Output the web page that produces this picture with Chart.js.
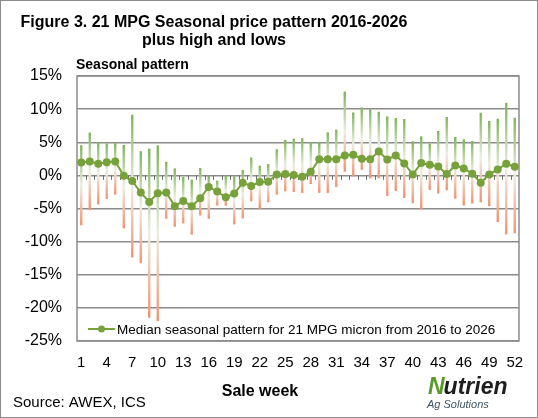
<!DOCTYPE html>
<html>
<head>
<meta charset="utf-8">
<script src="https://cdn.jsdelivr.net/npm/chart.js@4"></script>
<style>
  html, body { margin: 0; padding: 0; background: #fff; }
  canvas { display: block; }
</style>
</head>
<body>
<canvas id="seasonChart" width="538" height="418"></canvas>
<script>
const weeks = ["1","2","3","4","5","6","7","8","9","10","11","12","13","14","15","16","17","18","19","20",
  "21","22","23","24","25","26","27","28","29","30","31","32","33","34","35","36","37","38","39","40",
  "41","42","43","44","45","46","47","48","49","50","51","52"];
const shownWeeks = ["1","4","7","10","13","16","19","22","25","28","31","34","37","40","43","46","49","52"];

// median seasonal pattern, %
const median = [1.95, 2.1, 1.75, 2.0, 2.1, -0.05, -0.85, -2.6, -4.0, -2.7,
  -2.6, -4.65, -3.85, -4.65, -3.45, -1.75, -2.45, -3.3, -2.75, -1.1,
  -1.6, -1.0, -0.95, 0.15, 0.2, 0.05, -0.2, 0.55, 2.45, 2.45,
  2.45, 3.0, 3.1, 2.5, 2.45, 3.6, 2.4, 3.0, 1.8, 0.15,
  1.85, 1.6, 1.35, 0.2, 1.5, 1.05, 0.25, -1.1, 0.15, 0.9,
  1.75, 1.3];
const highs = [4.5, 6.4, 5.0, 4.75, 4.8, 4.55, 9.1, 3.6, 4.0, 4.5,
  2.0, 1.0, -0.3, -0.7, 1.05, -0.1, -0.85, -0.1, -0.2, 0.75,
  2.65, 1.4, 1.65, 3.9, 5.3, 5.5, 5.55, 5.0, 5.0, 6.45,
  6.85, 12.6, 9.45, 10.2, 10.1, 9.55, 8.85, 8.6, 8.45, 5.1,
  5.85, 4.75, 6.65, 8.75, 5.75, 5.4, 5.15, 9.4, 8.15, 8.5,
  10.9, 8.65];
const lows = [-7.5, -5.2, -4.35, -3.5, -2.85, -7.95, -12.35, -13.2, -21.45, -21.95,
  -6.5, -7.7, -7.2, -8.9, -6.0, -6.5, -4.5, -4.5, -7.35, -6.45,
  -3.85, -5.0, -4.0, -2.85, -2.35, -2.45, -2.6, -1.25, -2.6, -2.6,
  -1.7, 0.6, -0.1, 0.9, -0.4, -0.4, -3.05, -2.3, -3.35, -4.15,
  -5.05, -2.15, -2.7, -2.2, -3.45, -4.5, -4.2, -4.0, -4.6, -7.0,
  -8.85, -8.7];

const lineGreen = "#77a13a";
const FONT = "'Liberation Sans', Arial, sans-serif";
Chart.defaults.font.family = FONT;
Chart.defaults.color = "#000";

// each high-low bar fades green -> pale -> orange from its top to its bottom
const barColour = (context) => {
  const chart = context.chart;
  const y = chart.scales && chart.scales.y;
  if (!y || !chart.chartArea) return "#c8d4b0";
  const i = context.dataIndex;
  const top = y.getPixelForValue(highs[i]);
  const bottom = y.getPixelForValue(lows[i]);
  if (!isFinite(top) || !isFinite(bottom) || bottom - top < 1) return "#c8d4b0";
  const g = chart.ctx.createLinearGradient(0, top, 0, bottom);
  g.addColorStop(0, "#7db556");
  g.addColorStop(0.5, "#eceee2");
  g.addColorStop(1, "#f2916f");
  return g;
};

const extras = {
  id: "extras",
  beforeDraw(chart) {
    const ctx = chart.ctx;
    ctx.save();
    ctx.fillStyle = "#fff";
    ctx.fillRect(0, 0, chart.width, chart.height);
    ctx.restore();
  },
  beforeDatasetsDraw(chart) {
    const { ctx, chartArea: a } = chart;
    ctx.save();
    ctx.strokeStyle = "#8c8c8c";
    ctx.lineWidth = 1.5;
    ctx.strokeRect(a.left, a.top, a.right - a.left, a.bottom - a.top);
    // little tick marks on the zero line, between the weeks
    const y0 = chart.scales.y.getPixelForValue(0);
    const step = (a.right - a.left) / weeks.length;
    ctx.strokeStyle = "#6e6e6e";
    ctx.lineWidth = 1;
    ctx.beginPath();
    for (let i = 1; i < weeks.length; i++) {
      const x = Math.round(a.left + i * step) + 0.5;
      ctx.moveTo(x, y0);
      ctx.lineTo(x, y0 + 4.5);
    }
    ctx.stroke();
    ctx.restore();
  },
  afterDraw(chart) {
    const ctx = chart.ctx;
    ctx.save();
    ctx.fillStyle = "#000";
    ctx.textBaseline = "alphabetic";

    ctx.font = "bold 16px " + FONT;
    ctx.textAlign = "center";
    ctx.fillText("Figure 3. 21 MPG Seasonal price pattern 2016-2026", 214, 27);
    ctx.fillText("plus high and lows", 214, 45);

    ctx.textAlign = "left";
    ctx.font = "bold 14px " + FONT;
    ctx.fillText("Seasonal pattern", 76, 69);

    ctx.textAlign = "center";
    ctx.font = "bold 16px " + FONT;
    ctx.fillText("Sale week", 260, 396);

    ctx.textAlign = "left";
    ctx.font = "15px " + FONT;
    ctx.fillText("Source: AWEX, ICS", 13, 407);

    // legend
    ctx.strokeStyle = lineGreen;
    ctx.lineWidth = 2;
    ctx.beginPath();
    ctx.moveTo(88, 329);
    ctx.lineTo(115, 329);
    ctx.stroke();
    ctx.fillStyle = lineGreen;
    ctx.beginPath();
    ctx.arc(101.5, 329, 3.5, 0, Math.PI * 2);
    ctx.fill();
    ctx.fillStyle = "#000";
    ctx.font = "13.5px " + FONT;
    ctx.fillText("Median seasonal pattern for 21 MPG micron from 2016 to 2026", 117, 334);

    // logo text
    ctx.font = "italic bold 23px " + FONT;
    ctx.fillStyle = "#5c9a2c";
    ctx.fillText("N", 428, 394);
    const nW = ctx.measureText("N").width;
    ctx.fillStyle = "#1e1e1e";
    ctx.fillText("utrien", 428 + nW - 1, 394);
    ctx.font = "italic 11px " + FONT;
    ctx.fillStyle = "#3f5566";
    ctx.fillText("Ag Solutions", 427, 408);

    // outer frame
    ctx.strokeStyle = "#8c8c8c";
    ctx.lineWidth = 1;
    ctx.strokeRect(0.5, 0.5, chart.width - 1, chart.height - 1);
    ctx.restore();
  }
};

new Chart(document.getElementById("seasonChart"), {
  type: "bar",
  data: {
    labels: weeks,
    datasets: [
      {
        type: "line",
        label: "Median seasonal pattern for 21 MPG micron from 2016 to 2026",
        data: median,
        borderColor: lineGreen,
        backgroundColor: lineGreen,
        borderWidth: 2,
        pointRadius: 4,
        pointBorderWidth: 0,
        pointBackgroundColor: lineGreen,
        tension: 0,
        order: 0
      },
      {
        label: "High / low",
        data: lows.map((l, i) => [l, highs[i]]),
        backgroundColor: barColour,
        borderWidth: 0,
        barThickness: 1.7,
        order: 1
      }
    ]
  },
  options: {
    responsive: false,
    animation: false,
    layout: { padding: { left: 0, right: 19, top: 76, bottom: 0 } },
    plugins: {
      legend: { display: false },
      title: { display: false },
      tooltip: { enabled: false }
    },
    scales: {
      x: {
        grid: { display: false, drawTicks: false },
        border: { display: false },
        ticks: {
          autoSkip: false,
          maxRotation: 0,
          padding: 13,
          font: { size: 15 },
          color: "#000",
          callback: function (value) {
            const lab = this.getLabelForValue(value);
            return shownWeeks.includes(lab) ? lab : "";
          }
        },
        afterFit: (scale) => { scale.height = 77; }
      },
      y: {
        min: -25,
        max: 15,
        grid: { color: "#8c8c8c", lineWidth: 1.5, drawTicks: false },
        border: { display: false },
        ticks: {
          stepSize: 5,
          padding: 15,
          font: { size: 16 },
          color: "#000",
          callback: (v) => v + "%"
        },
        afterFit: (scale) => { scale.width = 77; }
      }
    }
  },
  plugins: [extras]
});
</script>
</body>
</html>
